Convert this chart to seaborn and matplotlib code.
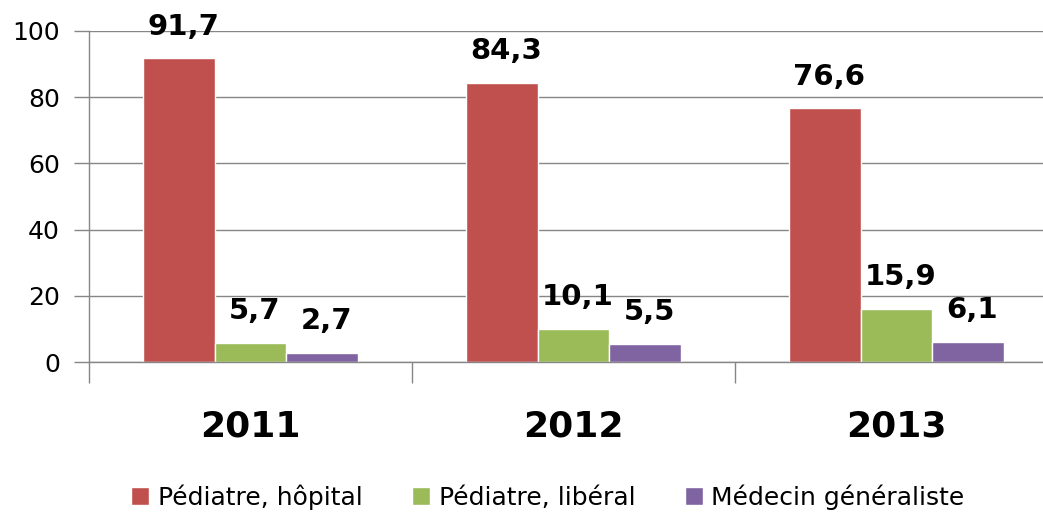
import pandas as pd
import matplotlib
matplotlib.use("Agg")
import matplotlib.pyplot as plt
import seaborn as sns

# données
annees = ["2011", "2012", "2013"]
series = ["Pédiatre, hôpital", "Pédiatre, libéral", "Médecin généraliste"]
hopital = [91.7, 84.3, 76.6]
liberal = [5.7, 10.1, 15.9]
generaliste = [2.7, 5.5, 6.1]
couleurs = ["#C0504D", "#9BBB59", "#8064A2"]

df = pd.DataFrame({
    "annee": annees * 3,
    "serie": [series[0]] * 3 + [series[1]] * 3 + [series[2]] * 3,
    "valeur": hopital + liberal + generaliste,
})

sns.set_style("white")
plt.rcParams["font.family"] = ["DejaVu Sans"]
plt.rcParams["text.color"] = "black"

fig = plt.figure(figsize=(10.43, 5.13), dpi=100)
ax = fig.add_axes([89 / 1043, 151 / 513, (1058 - 89) / 1043, 331 / 513])

sns.barplot(data=df, x="annee", y="valeur", hue="serie", palette=couleurs,
            width=0.665, gap=0, saturation=1, ax=ax, legend=True, errorbar=None)

gris = "#868686"
ax.set_ylim(0, 100)
ax.set_xlim(-0.5, 2.5)
ax.set_yticks([0, 20, 40, 60, 80, 100])
ax.yaxis.grid(True, color=gris, linewidth=1)
ax.set_axisbelow(True)
ax.tick_params(axis="y", labelsize=18, length=11, width=1, color=gris, pad=10,
               left=True, labelcolor="black")

# graduations aux limites des catégories, étiquettes au centre
ax.set_xticks([-0.5, 0.5, 1.5, 2.5])
ax.set_xticklabels([])
ax.set_xticks([0, 1, 2], minor=True)
ax.set_xticklabels(annees, minor=True, fontsize=26, fontweight="bold")
ax.tick_params(axis="x", which="major", length=15, width=1, color=gris, bottom=True)
ax.tick_params(axis="x", which="minor", length=0, pad=34, labelcolor="black")
ax.set_xlabel("")
ax.set_ylabel("")

for s in ["top", "right"]:
    ax.spines[s].set_visible(False)
for s in ["left", "bottom"]:
    ax.spines[s].set_color(gris)
    ax.spines[s].set_linewidth(1)

for cont in ax.containers:
    for barre in cont:
        h = barre.get_height()
        ax.annotate(f"{h:.1f}".replace(".", ","),
                    (barre.get_x() + barre.get_width() / 2, h),
                    xytext=(3, 23), textcoords="offset points",
                    ha="center", va="center", fontsize=21, fontweight="bold")

handles, labels = ax.get_legend_handles_labels()
ax.get_legend().remove()
fig.legend(handles, labels, loc="center", bbox_to_anchor=(548 / 1043, 1 - 497 / 513),
           ncol=3, frameon=False, fontsize=18, handlelength=0.7, handleheight=0.7,
           handletextpad=0.35, columnspacing=2.0)

fig.savefig("out.png", dpi=100)
